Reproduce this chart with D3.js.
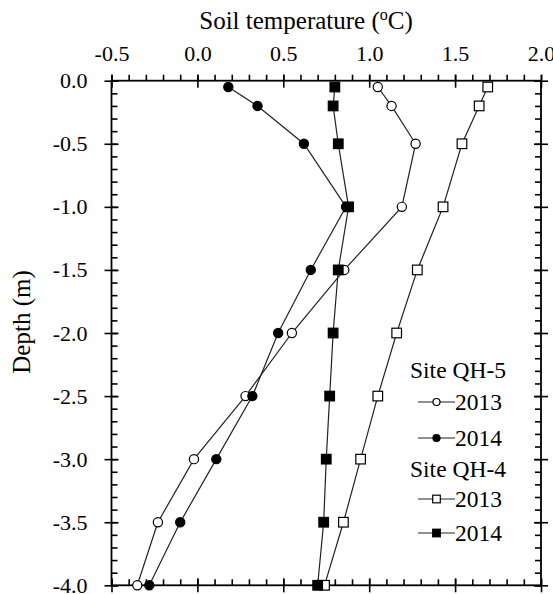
<!DOCTYPE html>
<html><head><meta charset="utf-8">
<script src="https://cdn.jsdelivr.net/npm/d3@7"></script>
<style>body{margin:0;background:#fff}svg{display:block}svg text{font-family:"Liberation Serif","Times New Roman",serif !important;fill:#000}</style>
</head><body><svg id="c" width="553" height="594"></svg>
<script>
const depths = [-0.05, -0.2, -0.5, -1.0, -1.5, -2.0, -2.5, -3.0, -3.5, -4.0];
const qh5_2013 = [1.05, 1.13, 1.27, 1.19, 0.855, 0.55, 0.28, -0.02, -0.23, -0.35];
const qh5_2014 = [0.18, 0.35, 0.62, 0.865, 0.66, 0.47, 0.32, 0.11, -0.10, -0.28];
const qh4_2013 = [1.69, 1.64, 1.54, 1.43, 1.28, 1.16, 1.05, 0.95, 0.85, 0.74];
const qh4_2014 = [0.80, 0.79, 0.82, 0.88, 0.82, 0.79, 0.77, 0.75, 0.735, 0.70];
const xTicks = [-0.5, 0.0, 0.5, 1.0, 1.5, 2.0];
const yTicks = [0.0, -0.5, -1.0, -1.5, -2.0, -2.5, -3.0, -3.5, -4.0];
const xMinor = d3.range(-5, 21).map(i => i / 10);
const yMinor = d3.range(0, 41).map(i => -i / 10);

const svg = d3.select("#c");
const L = 111.5, R = 541, T = 80.7, B = 585.3;
const x = d3.scaleLinear().domain([-0.5, 2.0]).range([L, R]);
const y = d3.scaleLinear().domain([0, -4]).range([T, B]);

function ax(gen, tx, ty) {
  const g = svg.append("g").attr("transform", `translate(${tx},${ty})`).call(gen);
  g.select(".domain").remove();
  g.selectAll("line").attr("stroke", "#000").attr("stroke-width", 1.6);
  return g;
}
const fmt = d3.format(".1f");
const minus = s => s.replace("−", "-");
// top axis
ax(d3.axisTop(x).tickValues(xMinor).tickSize(6).tickFormat(""), 0, T);
const gt = ax(d3.axisTop(x).tickValues(xTicks).tickSize(6).tickPadding(14).tickFormat(d => minus(fmt(d))), 0, T);
gt.selectAll("text").attr("font-size", 22);
ax(d3.axisBottom(x).tickValues(xTicks).tickSize(7).tickFormat(""), 0, T);
// bottom axis
ax(d3.axisTop(x).tickValues(xMinor).tickSize(6).tickFormat(""), 0, B);
ax(d3.axisTop(x).tickValues(xTicks).tickSize(7).tickFormat(""), 0, B);
ax(d3.axisBottom(x).tickValues(xTicks).tickSize(7).tickFormat(""), 0, B);
// left axis
ax(d3.axisRight(y).tickValues(yMinor).tickSize(6).tickFormat(""), L, 0);
const gl = ax(d3.axisLeft(y).tickValues(yTicks).tickSize(7).tickPadding(17).tickFormat(d => minus(fmt(d))), L, 0);
gl.selectAll("text").attr("font-size", 22);
ax(d3.axisRight(y).tickValues(yTicks).tickSize(7).tickFormat(""), L, 0);
// right axis
ax(d3.axisLeft(y).tickValues(yMinor).tickSize(6).tickFormat(""), R, 0);
ax(d3.axisLeft(y).tickValues(yTicks).tickSize(7).tickFormat(""), R, 0);
ax(d3.axisRight(y).tickValues(yTicks).tickSize(7).tickFormat(""), R, 0);
// frame
svg.append("rect").attr("x", L).attr("y", T).attr("width", R - L).attr("height", B - T)
  .attr("fill", "none").attr("stroke", "#000").attr("stroke-width", 1.8);

// titles
const tt = svg.append("text").attr("x", 306).attr("y", 29).attr("text-anchor", "middle").attr("font-size", 25);
tt.append("tspan").text("Soil temperature (");
tt.append("tspan").text("o").attr("font-size", 16).attr("dy", -9);
tt.append("tspan").text("C)").attr("dy", 9);
svg.append("text").attr("transform", "translate(30,322) rotate(-90)").attr("text-anchor", "middle")
  .attr("font-size", 25).text("Depth (m)");

const series = [
  {vals: qh5_2013, shape: "circle", fill: "#fff"},
  {vals: qh5_2014, shape: "circle", fill: "#000"},
  {vals: qh4_2013, shape: "square", fill: "#fff"},
  {vals: qh4_2014, shape: "square", fill: "#000"}
];
const line = d3.line().x(d => x(d[0])).y(d => y(d[1]));
series.forEach(s => {
  const pts = s.vals.map((v, i) => [v, depths[i]]);
  svg.append("path").attr("d", line(pts)).attr("fill", "none").attr("stroke", "#222").attr("stroke-width", 1.2);
});
function marker(g, shape, fill, cx, cy, r) {
  if (shape === "circle") g.append("circle").attr("cx", cx).attr("cy", cy).attr("r", r)
    .attr("fill", fill).attr("stroke", "#000").attr("stroke-width", 1.2);
  else g.append("rect").attr("x", cx - r).attr("y", cy - r).attr("width", 2 * r).attr("height", 2 * r)
    .attr("fill", fill).attr("stroke", "#000").attr("stroke-width", 1.2);
}
series.forEach(s => {
  const g = svg.append("g");
  s.vals.forEach((v, i) => marker(g, s.shape, s.fill, x(v), y(depths[i]), s.shape === "circle" ? 4.6 : 4.8));
});

// legend
const lg = svg.append("g");
const legendRows = [
  {type: "title", text: "Site QH-5", y: 378},
  {type: "item", s: series[0], text: "2013", y: 402},
  {type: "item", s: series[1], text: "2014", y: 438},
  {type: "title", text: "Site QH-4", y: 477},
  {type: "item", s: series[2], text: "2013", y: 499},
  {type: "item", s: series[3], text: "2014", y: 533}
];
legendRows.forEach(r => {
  if (r.type === "title") {
    lg.append("text").attr("x", 410).attr("y", r.y).attr("font-size", 23.5).text(r.text);
  } else {
    lg.append("line").attr("x1", 418).attr("x2", 455).attr("y1", r.y).attr("y2", r.y)
      .attr("stroke", "#222").attr("stroke-width", 1.2);
    marker(lg, r.s.shape, r.s.fill, 436.5, r.y, r.s.shape === "circle" ? 3.5 : 3.8);
    lg.append("text").attr("x", 455).attr("y", r.y + 8).attr("font-size", 23.5).text(r.text);
  }
});
</script></body></html>
